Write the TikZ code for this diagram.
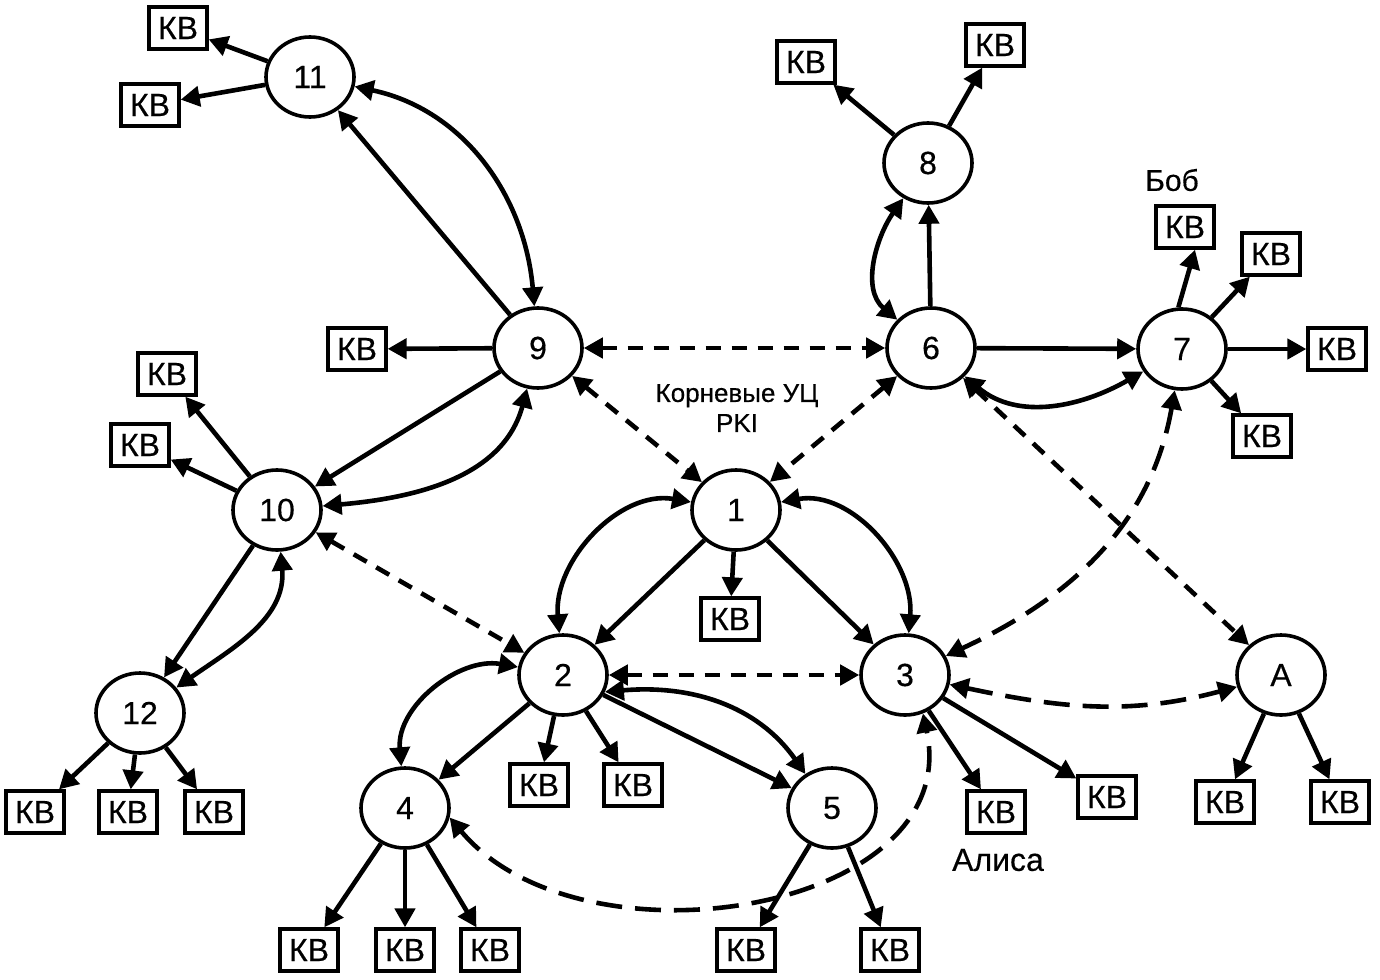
\documentclass[tikz,border=0pt]{standalone}
\usepackage{fontspec}
\setmainfont{Liberation Sans}[FakeBold=0.4]
\usetikzlibrary{arrows.meta,shapes.geometric}
\begin{document}
\begin{tikzpicture}[x=1pt,y=1pt,
  circ/.style={ellipse, draw, line width=3.6pt, minimum width=88pt, minimum height=80pt, inner sep=0pt, font=\fontsize{32}{32}\selectfont},
  kv/.style={draw, line width=3.3pt, minimum width=58pt, minimum height=42pt, inner sep=0pt, font=\fontsize{32}{32}\selectfont},
  ar/.style={line width=4.6pt, -{Triangle[length=19pt,width=20pt]}},
  bi/.style={line width=4.6pt, {Triangle[length=19pt,width=20pt]}-{Triangle[length=19pt,width=20pt]}},
  sd/.style={dash pattern=on 15pt off 11pt},
  ld/.style={dash pattern=on 26pt off 13pt},
  lab/.style={font=\fontsize{26}{26}\selectfont, align=center, inner sep=0pt}
]
\useasboundingbox (0,0) rectangle (1380,-979);

% main nodes
\node[circ] (n11) at (310,-77) {11};
\node[circ] (n9) at (538,-348) {9};
\node[circ] (n6) at (931,-348) {6};
\node[circ] (n8) at (928,-163) {8};
\node[circ] (n7) at (1182,-349) {7};
\node[circ] (n10) at (277,-510) {10};
\node[circ] (n1) at (736,-510) {1};
\node[circ] (n12) at (140,-713) {12};
\node[circ] (n2) at (563,-675) {2};
\node[circ] (n3) at (905,-675) {3};
\node[circ] (nA) at (1281,-675) {A};
\node[circ] (n4) at (405,-808) {4};
\node[circ] (n5) at (832,-808) {5};

% key boxes
\node[kv] (k11a) at (178,-28) {КВ};
\node[kv] (k11b) at (150,-105) {КВ};
\node[kv] (k8a) at (806,-62) {КВ};
\node[kv] (k8b) at (995,-45) {КВ};
\node[kv] (k7a) at (1185,-227) {КВ};
\node[kv] (k7b) at (1271,-254) {КВ};
\node[kv] (k7c) at (1337,-349) {КВ};
\node[kv] (k7d) at (1262,-436) {КВ};
\node[kv] (k9) at (357,-349) {КВ};
\node[kv] (k10a) at (167,-374) {КВ};
\node[kv] (k10b) at (140,-445) {КВ};
\node[kv] (k1) at (730,-619) {КВ};
\node[kv] (k12a) at (35,-812) {КВ};
\node[kv] (k12b) at (128,-812) {КВ};
\node[kv] (k12c) at (214,-812) {КВ};
\node[kv] (k2a) at (539,-785) {КВ};
\node[kv] (k2b) at (633,-785) {КВ};
\node[kv] (k4a) at (309,-950) {КВ};
\node[kv] (k4b) at (405,-950) {КВ};
\node[kv] (k4c) at (490,-950) {КВ};
\node[kv] (k5a) at (746,-950) {КВ};
\node[kv] (k5b) at (890,-950) {КВ};
\node[kv] (k3a) at (996,-812) {КВ};
\node[kv] (k3b) at (1107,-797) {КВ};
\node[kv] (kAa) at (1225,-802) {КВ};
\node[kv] (kAb) at (1340,-802) {КВ};

% labels
\node[lab] (root) at (737,-408) {Корневые УЦ\\[4pt]PKI};
\node[lab, font=\fontsize{30}{30}\selectfont] (bob) at (1172,-180) {Боб};
\node[lab, font=\fontsize{32}{32}\selectfont] (alice) at (998,-860) {Алиса};

% key arrows
\draw[ar] (n11) -- (k11a);
\draw[ar] (n11) -- (k11b);
\draw[ar] (n8) -- (k8a);
\draw[ar] (n8) -- (k8b);
\draw[ar] (n7.95) -- ([xshift=10pt]k7a.south);
\draw[ar] (n7) -- (k7b);
\draw[ar] (n7) -- (k7c);
\draw[ar] (n7) -- (k7d);
\draw[ar] (n9) -- (k9);
\draw[ar] (n10) -- (k10a);
\draw[ar] (n10) -- (k10b);
\draw[ar] (n1) -- (k1);
\draw[ar] (n12) -- (k12a);
\draw[ar] (n12) -- (k12b);
\draw[ar] (n12) -- (k12c);
\draw[ar] (n2) -- (k2a);
\draw[ar] (n2) -- (k2b);
\draw[ar] (n4) -- (k4a);
\draw[ar] (n4) -- (k4b);
\draw[ar] (n4) -- (k4c);
\draw[ar] (n5) -- (k5a);
\draw[ar] (n5) -- (k5b);
\draw[ar] (n3) -- (k3a);
\draw[ar] (n3) -- (k3b);
\draw[ar] (nA) -- (kAa);
\draw[ar] (nA) -- (kAb);

% certification (solid)
\draw[ar] (n9) -- (n11);
\draw[bi] (n11) to[out=-12,in=95] (n9);
\draw[ar] (n9) -- (n10);
\draw[bi] (n10) to[out=5,in=-105] (n9);
\draw[ar] (n10) -- (n12);
\draw[bi] (n12) to[out=35,in=-85] (n10);
\draw[ar] (n6) -- (n8);
\draw[bi] (n8) to[out=-125,in=140] (n6);
\draw[ar] (n6) -- (n7);
\draw[bi] (n6) to[out=-40,in=-150] (n7);
\draw[ar] (n1) -- (n2);
\draw[bi] (n1) to[out=170,in=95] (n2);
\draw[ar] (n1) -- (n3);
\draw[bi] (n1) to[out=10,in=85] (n3);
\draw[ar] (n2) -- (n4);
\draw[bi] (n2) to[out=170,in=95] (n4);
\draw[ar] (n2) -- (n5);
\draw[bi] (n2.-22) to[out=5,in=125] (n5.128);

% cross certification (dashed)
\draw[bi,sd] (n9) -- (n6);
\draw[bi,sd] (n9) -- (n1);
\draw[bi,sd] (n6) -- (n1);
\draw[bi,sd] (n6) -- (nA);
\draw[bi,sd] (n10) -- (n2);
\draw[bi,sd] (n2) -- (n3);
\draw[bi,ld] (n7) to[out=-100,in=25] (n3);
\draw[bi,ld] (n4.-12) to[out=-50,in=-78,looseness=1.08] (n3.-65);
\draw[bi,ld] (n3) to[out=-12,in=-165] (nA);
\end{tikzpicture}
\end{document}
